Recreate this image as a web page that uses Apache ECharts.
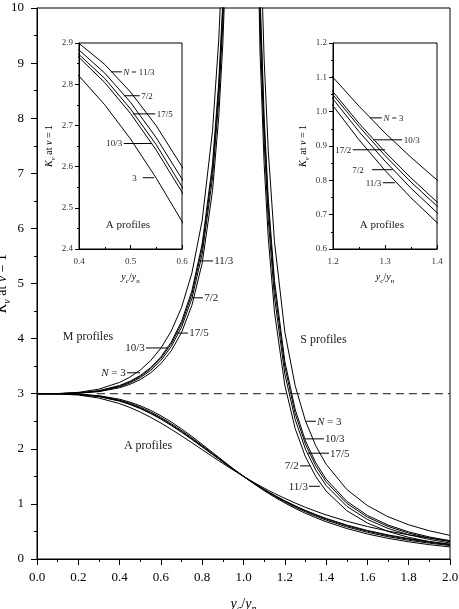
<!DOCTYPE html>
<html>
<head>
<meta charset="utf-8">
<script src="https://cdn.jsdelivr.net/npm/echarts@6/dist/echarts.min.js"></script>
<style>
html, body { margin: 0; padding: 0; background: #fff; }
#main { width: 459px; height: 609px; }
</style>
</head>
<body>
<div id="main"></div>
<script>
// N values: 3, 10/3, 17/5, 7/2, 11/3 (same order in every profile list)
const nNames = ['3', '10/3', '17/5', '7/2', '11/3'];

// A profiles, full range 0..2
const xA = [0, 0.1, 0.2, 0.3, 0.4, 0.45, 0.5, 0.55, 0.6, 0.65, 0.7, 0.75, 0.8, 0.85, 0.88, 0.9, 0.92, 0.95, 1.0,
  1.05, 1.08, 1.1, 1.12, 1.15, 1.2, 1.25, 1.3, 1.35, 1.4, 1.5, 1.6, 1.7, 1.8, 1.9, 2.0];
const aProfiles = [
  [3, 2.997, 2.976, 2.921, 2.820, 2.750, 2.667, 2.572, 2.467, 2.354, 2.234, 2.110, 1.984, 1.859, 1.784, 1.735, 1.687, 1.615, 1.5,
    1.390, 1.328, 1.287, 1.247, 1.190, 1.100, 1.016, 0.938, 0.867, 0.801, 0.686, 0.589, 0.507, 0.439, 0.382, 0.333],
  [3, 2.999, 2.986, 2.947, 2.865, 2.804, 2.729, 2.640, 2.538, 2.423, 2.300, 2.169, 2.033, 1.897, 1.815, 1.761, 1.707, 1.628, 1.5,
    1.378, 1.309, 1.264, 1.220, 1.157, 1.058, 0.966, 0.883, 0.807, 0.737, 0.617, 0.518, 0.437, 0.371, 0.316, 0.271],
  [3, 2.999, 2.987, 2.951, 2.872, 2.814, 2.740, 2.653, 2.551, 2.437, 2.313, 2.180, 2.043, 1.904, 1.821, 1.766, 1.711, 1.630, 1.5,
    1.376, 1.305, 1.259, 1.215, 1.150, 1.049, 0.957, 0.872, 0.795, 0.725, 0.604, 0.505, 0.424, 0.358, 0.304, 0.260],
  [3, 2.999, 2.989, 2.956, 2.883, 2.827, 2.756, 2.670, 2.570, 2.456, 2.331, 2.197, 2.058, 1.915, 1.830, 1.774, 1.717, 1.634, 1.5,
    1.372, 1.299, 1.252, 1.206, 1.140, 1.037, 0.942, 0.856, 0.777, 0.706, 0.584, 0.485, 0.405, 0.340, 0.287, 0.244],
  [3, 2.999, 2.992, 2.964, 2.899, 2.848, 2.781, 2.699, 2.600, 2.488, 2.361, 2.225, 2.081, 1.934, 1.845, 1.786, 1.728, 1.641, 1.5,
    1.366, 1.290, 1.240, 1.193, 1.124, 1.017, 0.918, 0.829, 0.749, 0.677, 0.553, 0.454, 0.375, 0.312, 0.260, 0.219]
];

// M profiles (left of 1, above 3)
const xM = [0, 0.1, 0.2, 0.3, 0.4, 0.45, 0.5, 0.55, 0.6, 0.65, 0.7, 0.75, 0.8, 0.85, 0.88, 0.9, 0.92];
const mProfiles = [
  [3, 3.003, 3.024, 3.083, 3.205, 3.301, 3.429, 3.599, 3.827, 4.136, 4.566, 5.189, 6.148, 7.774, 9.419, 11.07, 13.56],
  [3, 3.001, 3.014, 3.055, 3.149, 3.225, 3.330, 3.473, 3.668, 3.937, 4.313, 4.865, 5.719, 7.174, 8.648, 10.12, 12.36],
  [3, 3.001, 3.013, 3.051, 3.139, 3.213, 3.314, 3.452, 3.641, 3.902, 4.269, 4.808, 5.643, 7.067, 8.513, 9.960, 12.15],
  [3, 3.001, 3.011, 3.045, 3.127, 3.195, 3.291, 3.422, 3.603, 3.853, 4.208, 4.727, 5.535, 6.916, 8.319, 9.724, 11.85],
  [3, 3.001, 3.008, 3.037, 3.108, 3.170, 3.256, 3.377, 3.545, 3.778, 4.112, 4.603, 5.370, 6.683, 8.019, 9.357, 11.39]
];

// S profiles (right of 1)
const xS = [1.05, 1.08, 1.1, 1.12, 1.15, 1.2, 1.25, 1.3, 1.35, 1.4, 1.5, 1.6, 1.7, 1.8, 1.9, 2.0];
const sProfiles = [
  [19.04, 11.55, 9.063, 7.409, 5.759, 4.121, 3.148, 2.506, 2.054, 1.720, 1.263, 0.969, 0.767, 0.621, 0.512, 0.429],
  [17.00, 10.26, 8.024, 6.535, 5.056, 3.588, 2.717, 2.146, 1.745, 1.450, 1.048, 0.791, 0.617, 0.492, 0.400, 0.330],
  [16.63, 10.03, 7.837, 6.382, 4.932, 3.494, 2.642, 2.083, 1.691, 1.402, 1.010, 0.761, 0.591, 0.470, 0.381, 0.314],
  [16.13, 9.70, 7.576, 6.161, 4.754, 3.360, 2.534, 1.993, 1.614, 1.335, 0.957, 0.718, 0.555, 0.440, 0.355, 0.291],
  [15.30, 9.20, 7.170, 5.824, 4.482, 3.154, 2.369, 1.855, 1.496, 1.233, 0.877, 0.652, 0.500, 0.393, 0.315, 0.256]
];

const refLevel = 3;
const refStart = 0.29;

// axis ranges: [xmin, xmax, xstep, ymin, ymax, ystep]
const mainRange = [0, 2, 0.2, 0, 10, 1];
const inset1Range = [0.4, 0.6, 0.1, 2.4, 2.9, 0.1];
const inset2Range = [1.2, 1.4, 0.1, 0.6, 1.2, 0.1];

// annotations: [grid, text, leader x1, leader x2, y, text anchor x, align]
const leaderNotes = [
  [0, '{i|N} = 3', 0.436, 0.499, 3.38, 0.43, 'right'],
  [0, '10/3', 0.528, 0.634, 3.83, 0.522, 'right'],
  [0, '17/5', 0.678, 0.731, 4.10, 0.737, 'left'],
  [0, '7/2', 0.751, 0.804, 4.74, 0.81, 'left'],
  [0, '11/3', 0.789, 0.852, 5.41, 0.858, 'left'],
  [0, '{i|N} = 3', 1.303, 1.351, 2.50, 1.356, 'left'],
  [0, '10/3', 1.298, 1.390, 2.18, 1.395, 'left'],
  [0, '17/5', 1.312, 1.414, 1.92, 1.419, 'left'],
  [0, '7/2', 1.274, 1.322, 1.69, 1.268, 'right'],
  [0, '11/3', 1.317, 1.370, 1.32, 1.312, 'right'],
  [1, '{i|N} = 11/3', 0.462, 0.483, 2.830, 0.486, 'left'],
  [1, '7/2', 0.487, 0.518, 2.772, 0.521, 'left'],
  [1, '17/5', 0.505, 0.548, 2.728, 0.551, 'left'],
  [1, '10/3', 0.487, 0.542, 2.656, 0.484, 'right'],
  [1, '3', 0.524, 0.546, 2.573, 0.512, 'right'],
  [2, '{i|N} = 3', 1.271, 1.294, 0.982, 1.297, 'left'],
  [2, '10/3', 1.277, 1.333, 0.918, 1.336, 'left'],
  [2, '17/2', 1.238, 1.300, 0.889, 1.235, 'right'],
  [2, '7/2', 1.275, 1.315, 0.831, 1.259, 'right'],
  [2, '11/3', 1.296, 1.319, 0.793, 1.293, 'right']
];
const regionNotes = [
  [0, 'M profiles', 0.247, 4.03],
  [0, 'S profiles', 1.387, 3.97],
  [0, 'A profiles', 0.538, 2.05],
  [1, 'A profiles', 0.495, 2.457],
  [2, 'A profiles', 1.294, 0.670]
];

const serif = '"Liberation Serif", "Times New Roman", serif';

function nameRich(size, sub) {
  return {
    i: { fontFamily: serif, fontSize: size, fontStyle: 'italic', color: '#000', lineHeight: size + 3, verticalAlign: 'top' },
    t: { fontFamily: serif, fontSize: size, color: '#000', lineHeight: size + 3, verticalAlign: 'top' },
    s: { fontFamily: serif, fontSize: sub, fontStyle: 'italic', color: '#000', lineHeight: sub, verticalAlign: 'bottom' }
  };
}

function makeX(g, r, inset) {
  return {
    type: 'value', gridIndex: g, min: r[0], max: r[1], interval: r[2],
    axisLine: { lineStyle: { color: '#000', width: 1 } },
    axisTick: { inside: inset, length: inset ? 4 : 6, lineStyle: { color: '#000' } },
    minorTick: { show: true, splitNumber: 2, length: inset ? 2 : 3, lineStyle: { color: '#000' } },
    splitLine: { show: false },
    minorSplitLine: { show: false },
    axisLabel: {
      fontFamily: serif, fontSize: inset ? 9 : 13, color: inset ? '#333' : '#000',
      margin: inset ? 8 : 12,
      formatter: v => v.toFixed(1)
    },
    name: '{i|y}{s|c}{t|/}{i|y}{s|n}',
    nameLocation: 'middle',
    nameMoveOverlap: false,
    nameGap: inset ? 23 : 38,
    nameTextStyle: { rich: inset ? nameRich(10, 7) : nameRich(14, 10) }
  };
}

function makeY(g, r, inset) {
  return {
    type: 'value', gridIndex: g, min: r[3], max: r[4], interval: r[5],
    axisLine: { lineStyle: { color: '#000', width: 1 } },
    axisTick: { inside: false, length: inset ? 4 : 6, lineStyle: { color: '#000' } },
    minorTick: { show: true, splitNumber: 2, length: inset ? 2 : 3, lineStyle: { color: '#000' } },
    splitLine: { show: false },
    minorSplitLine: { show: false },
    axisLabel: {
      fontFamily: serif, fontSize: inset ? 9 : 13, color: inset ? '#333' : '#000',
      margin: inset ? 6 : 13,
      formatter: v => inset ? v.toFixed(1) : String(Math.round(v))
    },
    name: '{i|K}{s|v}{t| at }{i|v}{t| = 1}',
    nameLocation: 'middle',
    nameMoveOverlap: false,
    nameGap: inset ? 22 : 25,
    nameTextStyle: { rich: inset ? nameRich(10, 7) : nameRich(14, 10) }
  };
}

function curve(g, xs, ys) {
  return {
    type: 'line', xAxisIndex: g, yAxisIndex: g,
    data: xs.map((x, i) => [x, ys[i]]),
    showSymbol: false, symbol: 'none', clip: true, silent: true,
    lineStyle: { color: '#000', width: 1 },
    animation: false
  };
}

let series = [];
[0, 1, 2].forEach(g => {
  aProfiles.forEach(ys => series.push(curve(g, xA, ys)));
});
mProfiles.forEach(ys => series.push(curve(0, xM, ys)));
sProfiles.forEach(ys => series.push(curve(0, xS, ys)));
series.push({
  type: 'line', xAxisIndex: 0, yAxisIndex: 0,
  data: [[refStart, refLevel], [mainRange[1], refLevel]],
  showSymbol: false, symbol: 'none', silent: true, animation: false,
  lineStyle: { color: '#444', width: 1.2, type: [8, 5] }
});

let myChart = echarts.init(document.getElementById('main'));

myChart.setOption({
    backgroundColor: '#fff',
    animation: false,
    grid: [
        { left: 37, right: 9, top: 8, bottom: 50, outerBoundsMode: 'none', show: true, borderColor: '#000', borderWidth: 1 },
        { left: 79, right: 277, top: 43, bottom: 360, outerBoundsMode: 'none', show: true, borderColor: '#000', borderWidth: 1, backgroundColor: '#fff' },
        { left: 333, right: 22, top: 43, bottom: 360, outerBoundsMode: 'none', show: true, borderColor: '#000', borderWidth: 1, backgroundColor: '#fff' }
    ],
    xAxis: [makeX(0, mainRange, false), makeX(1, inset1Range, true), makeX(2, inset2Range, true)],
    yAxis: [makeY(0, mainRange, false), makeY(1, inset1Range, true), makeY(2, inset2Range, true)],
    series: series
});

// labels and leader lines, placed through the axes
let graphics = [];
leaderNotes.forEach(n => {
  const size = n[0] === 0 ? 11 : 9;
  const p1 = myChart.convertToPixel({ gridIndex: n[0] }, [n[2], n[4]]);
  const p2 = myChart.convertToPixel({ gridIndex: n[0] }, [n[3], n[4]]);
  const pt = myChart.convertToPixel({ gridIndex: n[0] }, [n[5], n[4]]);
  graphics.push({
    type: 'line', silent: true, z: 10,
    shape: { x1: p1[0], y1: p1[1], x2: p2[0], y2: p2[1] },
    style: { stroke: '#000', lineWidth: 1 }
  });
  graphics.push({
    type: 'text', silent: true, z: 10,
    style: {
      text: n[1], x: pt[0], y: pt[1] + 0.5, align: n[6], verticalAlign: 'middle',
      fontFamily: serif, fontSize: size, fill: '#222',
      rich: { i: { fontFamily: serif, fontSize: size, fontStyle: 'italic', fill: '#222' } }
    }
  });
});
regionNotes.forEach(n => {
  const p = myChart.convertToPixel({ gridIndex: n[0] }, [n[2], n[3]]);
  graphics.push({
    type: 'text', silent: true, z: 10,
    style: {
      text: n[1], x: p[0], y: p[1], align: 'center', verticalAlign: 'middle',
      fontFamily: serif, fontSize: n[0] === 0 ? 12 : 11, fill: '#222'
    }
  });
});
myChart.setOption({ graphic: graphics });

window.addEventListener('resize', function () {
    myChart.resize();
});
</script>
</body>
</html>
